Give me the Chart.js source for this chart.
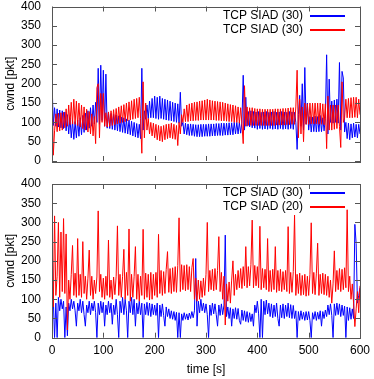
<!DOCTYPE html>
<html>
<head>
<meta charset="utf-8">
<script src="https://cdn.jsdelivr.net/npm/chart.js@4/dist/chart.umd.min.js"></script>
<style>
    html, body { margin: 0; padding: 0; background: #fff; }
    #wrap { position: relative; width: 374px; height: 379px; }
    canvas { position: absolute; left: 0; }
    #c1 { top: 0; }
    #c2 { top: 175px; }
</style>
</head>
<body>
<div id="wrap">
    <canvas id="c1" width="374" height="175"></canvas>
    <canvas id="c2" width="374" height="204"></canvas>
</div>
<script>
    // samples every 2.5 s, 0..600 s
    const step = 2.5;
    const xTicks = [0, 100, 200, 300, 400, 500, 600];
    const yTicks = [0, 50, 100, 150, 200, 250, 300, 350, 400];
    const topNames = ['TCP SIAD (30)', 'TCP SIAD (30)'];
    const botNames = ['TCP SIAD (30)', 'TCP SIAD (20)'];
    const seriesColors = ['#0000ff', '#ff0000'];

    const topBlue = [
        210, 92, 138, 90, 135, 88, 132, 86, 130, 84,
        127, 78, 120, 70, 112, 60, 104, 56, 102, 60,
        106, 64, 112, 68, 118, 74, 124, 80, 130, 85,
        138, 90, 145, 96, 152, 100, 240, 95, 248, 105,
        235, 90, 225, 85, 125, 84, 123, 82, 121, 80,
        119, 78, 117, 76, 114, 74, 112, 72, 109, 70,
        106, 68, 103, 65, 100, 62, 97, 60, 95, 58,
        240, 80, 130, 108, 145, 110, 155, 112, 162, 112,
        168, 110, 165, 108, 168, 110, 162, 108, 160, 106,
        158, 105, 155, 104, 152, 102, 150, 100, 148, 98,
        178, 90, 100, 70, 98, 68, 96, 66, 96, 66,
        95, 64, 94, 63, 94, 63, 95, 63, 95, 64,
        95, 64, 96, 64, 96, 65, 96, 65, 97, 66,
        97, 66, 98, 66, 98, 67, 98, 67, 99, 68,
        99, 68, 100, 70, 100, 70, 100, 72, 101, 222,
        80, 165, 90, 128, 88, 130, 86, 128, 85, 127,
        82, 128, 84, 126, 82, 127, 83, 128, 82, 126,
        84, 127, 82, 128, 83, 126, 82, 127, 84, 128,
        82, 127, 83, 126, 82, 128, 84, 127, 82, 126,
        100, 30, 120, 170, 90, 200, 80, 242, 95, 150,
        80, 115, 75, 114, 76, 116, 75, 115, 76, 118,
        76, 112, 78, 110, 275, 70, 212, 100, 155, 98,
        158, 100, 160, 98, 255, 80, 232, 215, 75, 100,
        58, 98, 55, 96, 60, 98, 62, 95, 60, 95,
        70
    ];
    const topRed = [
        205, 15, 78, 122, 76, 124, 78, 125, 80, 126,
        86, 135, 90, 145, 94, 152, 96, 160, 95, 155,
        92, 150, 88, 145, 84, 140, 80, 134, 75, 128,
        70, 122, 65, 115, 45, 190, 200, 60, 175, 100,
        175, 90, 125, 88, 127, 90, 130, 92, 133, 94,
        136, 96, 140, 98, 143, 100, 146, 102, 150, 104,
        153, 106, 156, 108, 160, 110, 162, 112, 165, 110,
        20, 205, 60, 150, 80, 110, 70, 100, 65, 98,
        60, 95, 55, 92, 52, 90, 50, 92, 55, 95,
        58, 96, 60, 98, 58, 95, 56, 92, 40, 100,
        70, 120, 100, 135, 102, 145, 102, 148, 104, 150,
        104, 152, 105, 153, 105, 155, 106, 156, 106, 158,
        106, 160, 106, 158, 106, 156, 106, 155, 105, 154,
        105, 153, 104, 152, 104, 150, 103, 148, 102, 146,
        102, 145, 100, 143, 100, 140, 98, 138, 96, 45,
        195, 90, 140, 92, 138, 92, 138, 92, 136, 92,
        135, 92, 135, 92, 134, 92, 134, 92, 134, 92,
        134, 92, 134, 92, 135, 93, 135, 93, 135, 93,
        136, 93, 136, 94, 137, 94, 138, 95, 138, 95,
        140, 235, 60, 160, 70, 140, 50, 150, 95, 148,
        95, 150, 96, 150, 96, 150, 96, 150, 95, 150,
        95, 148, 94, 148, 32, 168, 80, 145, 80, 145,
        82, 145, 84, 145, 90, 35, 205, 100, 112, 160,
        112, 162, 112, 164, 112, 165, 113, 165, 112, 160,
        120
    ];

    const botBlue = [
        280, 100, 0, 90, 0, 105, 70, 100, 75, 95,
        0, 80, 5, 90, 70, 100, 75, 95, 70, 30,
        90, 70, 100, 65, 95, 60, 30, 85, 65, 95,
        60, 90, 70, 95, 65, 0, 90, 60, 95, 65,
        92, 30, 85, 60, 95, 65, 90, 35, 85, 60,
        100, 60, 0, 95, 65, 105, 60, 100, 70, 0,
        95, 65, 105, 60, 100, 30, 90, 62, 95, 60,
        90, 0, 88, 60, 92, 58, 90, 55, 88, 60,
        85, 58, 90, 0, 85, 55, 88, 58, 30, 80,
        55, 75, 50, 70, 48, 68, 45, 66, 0, 65,
        0, 62, 45, 65, 48, 62, 46, 64, 50, 68,
        52, 70, 206, 30, 95, 65, 100, 70, 90, 65,
        88, 60, 0, 85, 58, 90, 62, 88, 60, 30,
        85, 58, 88, 60, 85, 267, 55, 80, 50, 78,
        30, 75, 50, 78, 48, 76, 45, 35, 72, 45,
        70, 42, 68, 40, 65, 42, 62, 30, 85, 65,
        95, 62, 0, 100, 0, 95, 60, 98, 62, 90,
        55, 88, 52, 85, 55, 90, 50, 30, 85, 52,
        88, 50, 85, 55, 90, 52, 86, 50, 84, 50,
        70, 0, 68, 45, 70, 48, 66, 45, 68, 46,
        68, 45, 0, 65, 48, 68, 45, 66, 48, 70,
        30, 68, 50, 72, 55, 85, 60, 88, 58, 0,
        88, 58, 90, 60, 88, 55, 85, 58, 82, 0,
        80, 45, 78, 48, 75, 50, 295, 245, 90, 110,
        130
    ];
    const botRed = [
        205, 80, 317, 110, 160, 300, 105, 275, 120, 310,
        115, 270, 20, 150, 100, 165, 240, 110, 168, 105,
        258, 110, 165, 105, 250, 115, 160, 100, 155, 228,
        110, 160, 100, 150, 115, 158, 330, 120, 165, 105,
        155, 100, 160, 110, 254, 105, 150, 100, 158, 112,
        160, 291, 110, 165, 105, 160, 230, 100, 170, 110,
        283, 95, 165, 105, 160, 237, 100, 165, 95, 160,
        110, 282, 100, 168, 105, 165, 98, 170, 100, 165,
        110, 170, 105, 269, 115, 175, 110, 172, 115, 178,
        224, 118, 180, 115, 182, 120, 185, 118, 188, 312,
        120, 190, 125, 188, 122, 190, 125, 185, 120, 182,
        206, 100, 155, 95, 150, 100, 148, 105, 155, 110,
        165, 300, 120, 175, 125, 178, 122, 180, 125, 175,
        263, 120, 170, 100, 160, 33, 140, 95, 145, 90,
        150, 200, 110, 165, 125, 175, 130, 180, 128, 185,
        135, 237, 130, 185, 135, 190, 306, 130, 188, 135,
        185, 130, 290, 125, 180, 130, 178, 125, 258, 120,
        175, 120, 178, 125, 237, 118, 175, 122, 178, 120,
        172, 125, 175, 120, 289, 115, 170, 118, 172, 319,
        110, 165, 115, 168, 110, 162, 112, 165, 108, 160,
        110, 165, 299, 115, 170, 112, 168, 246, 110, 165,
        115, 168, 112, 165, 110, 160, 105, 150, 90, 140,
        226, 120, 175, 125, 180, 120, 178, 125, 182, 130,
        333, 120, 160, 100, 140, 90, 29, 75, 120, 65,
        135
    ];

    const font = { family: '"Liberation Sans", Arial, sans-serif', size: 12 };
    const toXY = arr => arr.map((v, i) => ({ x: i * step, y: v }));

    // gnuplot-like frame: inward ticks on all four sides + key at top right
    const frame = {
        id: 'frame',
        afterDatasetsDraw(chart) {
            const { ctx, chartArea: a, scales: { x, y } } = chart;
            ctx.save();
            ctx.strokeStyle = '#555';
            ctx.lineWidth = 1;
            ctx.beginPath();
            xTicks.forEach(v => {
                const px = Math.round(x.getPixelForValue(v)) + 0.5;
                ctx.moveTo(px, a.bottom); ctx.lineTo(px, a.bottom - 5);
                ctx.moveTo(px, a.top); ctx.lineTo(px, a.top + 5);
            });
            yTicks.forEach(v => {
                const py = Math.round(y.getPixelForValue(v)) + 0.5;
                ctx.moveTo(a.left, py); ctx.lineTo(a.left + 5, py);
                ctx.moveTo(a.right, py); ctx.lineTo(a.right - 5, py);
            });
            ctx.stroke();
            ctx.strokeRect(Math.round(a.left) + 0.5, Math.round(a.top) + 0.5,
                Math.round(a.right - a.left), Math.round(a.bottom - a.top));

            const names = chart.canvas.id === 'c1' ? topNames : botNames;
            const keyTop = chart.canvas.id === 'c1' ? 16 : 18;
            ctx.font = font.size + 'px ' + font.family;
            ctx.textAlign = 'right';
            ctx.textBaseline = 'middle';
            ctx.lineWidth = 2;
            names.forEach((n, i) => {
                const ly = keyTop + i * 14;
                ctx.fillStyle = '#000';
                ctx.fillText(n, 303, ly);
                ctx.strokeStyle = seriesColors[i];
                ctx.beginPath();
                ctx.moveTo(310, ly);
                ctx.lineTo(345, ly);
                ctx.stroke();
            });
            ctx.restore();
        }
    };

    function noPad(s) {
        s.paddingTop = 0; s.paddingBottom = 0; s.paddingLeft = 0; s.paddingRight = 0;
    }

    function makeChart(id, blue, red, bottom) {
        return new Chart(document.getElementById(id), {
            type: 'line',
            data: {
                datasets: [
                    { data: toXY(blue), borderColor: seriesColors[0], borderWidth: 1, pointRadius: 0, order: 1 },
                    { data: toXY(red), borderColor: seriesColors[1], borderWidth: 1, pointRadius: 0, order: 0 }
                ]
            },
            options: {
                responsive: false,
                animation: false,
                events: [],
                layout: { padding: { top: bottom ? 9 : 6.5, right: 14, left: 0, bottom: 0 } },
                plugins: {
                    legend: { display: false },
                    tooltip: { enabled: false }
                },
                scales: {
                    x: {
                        type: 'linear', min: 0, max: 600,
                        grid: { display: false, drawTicks: false },
                        border: { display: false },
                        ticks: { display: bottom, stepSize: 100, autoSkip: false, maxRotation: 0,
                                 color: '#000', font: font, padding: 6 },
                        title: { display: bottom, text: 'time [s]', color: '#000', font: font,
                                 padding: { top: 0, bottom: 2 } },
                        afterFit: s => { s.height = bottom ? 41.3 : 14; noPad(s); }
                    },
                    y: {
                        min: 0, max: 400,
                        grid: { display: false, drawTicks: false },
                        border: { display: false },
                        ticks: { stepSize: 50, color: '#000', font: font, padding: 11 },
                        title: { display: true, text: 'cwnd [pkt]', color: '#000', font: font,
                                 padding: { top: 3, bottom: 0 } },
                        afterFit: s => { s.width = 52; noPad(s); }
                    }
                }
            },
            plugins: [frame]
        });
    }

    makeChart('c1', topBlue, topRed, false);
    makeChart('c2', botBlue, botRed, true);
</script>
</body>
</html>
